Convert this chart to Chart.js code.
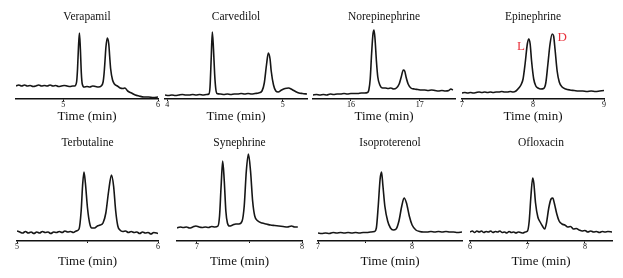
<!DOCTYPE html>
<html>
<head>
<meta charset="utf-8">
<script src="https://cdn.jsdelivr.net/npm/chart.js@4"></script>
<style>
  html, body { margin: 0; padding: 0; background: #fff; }
  #wrap { position: relative; width: 623px; height: 278px; background: #fff; overflow: hidden; }
  #wrap canvas { position: absolute; }
</style>
</head>
<body>
<div id="wrap"></div>
<script>
// ---------------- DATA ----------------
const panelNames = ['Verapamil', 'Carvedilol', 'Norepinephrine', 'Epinephrine',
                    'Terbutaline', 'Synephrine', 'Isoproterenol', 'Ofloxacin'];
const axisTitle = 'Time (min)';

const xMin = [4.5, 3.98, 15.45, 7, 5, 6.81, 7, 6];
const xMax = [6.0, 5.21, 17.51, 9, 6, 8.0, 8.53, 8.47];
const tickValues = [[5, 6], [4, 5], [16, 17], [7, 8, 9], [5, 5.5, 6], [7, 7.5, 8], [7, 7.5, 8], [6, 7, 8]];
const tickLabels = [['5', '6'], ['4', '5'], ['16', '17'], ['7', '8', '9'], ['5', '', '6'], ['7', '', '8'], ['7', '', '8'], ['6', '7', '8']];

const verapamilTime = [4.50,4.53,4.56,4.59,4.62,4.65,4.68,4.71,4.74,4.77,4.80,4.83,4.86,4.89,4.92,4.95,4.98,5.01,5.04,5.07,5.10,5.12,5.14,5.15,5.16,5.17,5.18,5.19,5.20,5.22,5.25,5.28,5.31,5.34,5.37,5.40,5.42,5.43,5.44,5.45,5.465,5.48,5.49,5.50,5.52,5.54,5.57,5.60,5.63,5.65,5.68,5.72,5.76,5.80,5.85,5.90,5.95,6.00];
const verapamilSignal = [13,14,13,14,13,13.5,12.5,13,14,13,13.5,13,14,13,13.5,12.5,13,13.5,13,12.5,13,13,17,30,52,66,50,26,15,12,12.5,12,13,12.5,12,13,17,25,38,52,61,55,42,30,19,15,13,11,10.5,11,8,6,4,3,2,2,1.5,2];

const carvedilolTime = [3.98,4.01,4.04,4.07,4.10,4.13,4.16,4.19,4.22,4.25,4.28,4.31,4.34,4.36,4.37,4.38,4.39,4.40,4.41,4.42,4.43,4.46,4.49,4.52,4.55,4.58,4.61,4.64,4.67,4.70,4.73,4.76,4.79,4.82,4.84,4.86,4.875,4.89,4.90,4.92,4.94,4.96,4.99,5.02,5.05,5.08,5.11,5.14,5.17,5.21];
const carvedilolSignal = [4,3.5,4,3.5,4,4.5,4,4,4.5,4,4.5,4,4.5,5,12,40,67,50,25,10,5.5,5,4.5,5,4.5,5,5,5.5,5,5.5,5,5.5,6,8,16,35,46,40,28,14,8,7,9,10.5,11,9.5,7.5,6,5.5,5];

const norepinephrineTime = [15.45,15.50,15.55,15.60,15.65,15.70,15.75,15.80,15.85,15.90,15.95,16.00,16.05,16.10,16.15,16.20,16.24,16.26,16.28,16.30,16.32,16.335,16.35,16.37,16.39,16.42,16.46,16.50,16.54,16.58,16.62,16.66,16.70,16.73,16.76,16.78,16.80,16.83,16.87,16.92,16.97,17.02,17.07,17.12,17.17,17.22,17.27,17.32,17.37,17.42,17.45,17.48];
const norepinephrineSignal = [4,4.5,4,4.5,4,5,4.5,5,5,5.5,5,5.5,5.5,5.5,6,6,6.5,9,20,45,65,69,60,38,22,14,11,11,10.5,11,10,11,15,22,29,28,22,15,11,10,9.5,9,9,8.5,9,8.5,8,8.5,8,8.5,10,9];

const epinephrineTime = [7.00,7.04,7.08,7.12,7.16,7.20,7.24,7.28,7.32,7.36,7.40,7.44,7.48,7.52,7.56,7.60,7.64,7.68,7.72,7.76,7.80,7.83,7.86,7.89,7.92,7.94,7.96,7.98,8.01,8.04,8.07,8.11,8.15,8.18,8.21,8.24,8.27,8.29,8.31,8.34,8.37,8.41,8.46,8.52,8.58,8.64,8.70,8.76,8.82,8.88,8.94,9.00];
const epinephrineSignal = [6,6.5,6,6.5,6,6.5,7,6.5,7,6.5,7,6.5,7,7,7.5,7,7,7.5,7,8,11,14,20,36,55,60,55,38,20,13,11,10,10.5,16,35,55,65,63,50,28,17,12,10,9,8.5,8,8,7.5,8,7.5,8,8.5];
const epinephrineMarks = ['L', 'D'];
const epinephrineMarkTime = [7.83, 8.41];
const epinephrineMarkSignal = [52, 61];

const terbutalineTime = [5.00,5.02,5.04,5.06,5.08,5.10,5.12,5.14,5.16,5.18,5.20,5.22,5.24,5.26,5.28,5.30,5.32,5.34,5.36,5.38,5.40,5.42,5.44,5.455,5.465,5.475,5.485,5.50,5.515,5.53,5.55,5.57,5.59,5.61,5.63,5.65,5.67,5.685,5.70,5.715,5.73,5.75,5.77,5.79,5.81,5.83,5.85,5.87,5.89,5.91,5.93,5.95,5.97,6.00];
const terbutalineSignal = [10,9,8,9.5,8,9,7.5,9,8,9.5,8.5,9,7.5,9,8.5,9.5,8.5,10,9,9.5,8.5,10,12,30,55,69,58,33,18,13,13,15,16,18,28,50,66,55,30,15,11,9.5,10,8.5,9.5,8.5,9,7.5,9,8,8.5,7,8.5,7.5];

const synephrineTime = [6.81,6.84,6.87,6.90,6.93,6.96,6.99,7.02,7.05,7.08,7.11,7.14,7.17,7.20,7.215,7.23,7.245,7.26,7.275,7.29,7.31,7.34,7.37,7.40,7.43,7.45,7.47,7.49,7.51,7.53,7.55,7.58,7.62,7.66,7.70,7.74,7.78,7.82,7.86,7.90,7.93,7.96];
const synephrineSignal = [13,14,13.5,14,13,14,15,14,13.5,14,13.5,14.5,14,15,25,55,80,60,30,18,15,16,17,17,20,35,70,87,70,40,25,20,18,17,16,15.5,15,14.5,14,15,14,14];

const isoproterenolTime = [7.00,7.04,7.08,7.12,7.16,7.20,7.24,7.28,7.32,7.36,7.40,7.44,7.48,7.52,7.56,7.60,7.62,7.64,7.66,7.675,7.69,7.71,7.74,7.77,7.80,7.83,7.86,7.89,7.915,7.94,7.97,8.00,8.04,8.08,8.12,8.16,8.20,8.24,8.28,8.32,8.36,8.40,8.44,8.48,8.53];
const isoproterenolSignal = [8,7.5,8,7.5,8.5,8,8.5,8,8.5,8,8.5,8,8.5,8.5,9,9.5,13,35,62,69,55,35,20,13,11,12,20,35,43,38,25,16,11,9.5,9,9,9.5,9,9.5,9,9.5,9,9,8.5,9];

const ofloxacinTime = [6.00,6.04,6.08,6.12,6.16,6.20,6.24,6.28,6.32,6.36,6.40,6.44,6.48,6.52,6.56,6.60,6.64,6.68,6.72,6.76,6.80,6.84,6.88,6.92,6.96,7.00,7.03,7.06,7.09,7.11,7.14,7.18,7.22,7.26,7.30,7.33,7.37,7.41,7.44,7.47,7.51,7.55,7.60,7.65,7.70,7.75,7.80,7.85,7.90,7.95,8.00,8.05,8.10,8.15,8.20,8.25,8.30,8.35,8.40,8.47];
const ofloxacinSignal = [9,10,8.5,10,9,10,8.5,9.5,9,10,8.5,9.5,9,10,8.5,9,8,9.5,8.5,9,8,9,8.5,8,9,10,20,45,63,58,38,24,19,15,12,18,33,42,43,37,27,20,17,16,14,14.5,12,12.5,11,10,10.5,9,10,9,9.5,8.5,9.5,9,9.5,9];

const panelTimes = [verapamilTime, carvedilolTime, norepinephrineTime, epinephrineTime,
                    terbutalineTime, synephrineTime, isoproterenolTime, ofloxacinTime];
const panelSignals = [verapamilSignal, carvedilolSignal, norepinephrineSignal, epinephrineSignal,
                      terbutalineSignal, synephrineSignal, isoproterenolSignal, ofloxacinSignal];

// ---------------- LAYOUT (pixels) ----------------
const axisLeftPx  = [16, 165, 313, 462, 17, 177, 318, 470];
const axisRightPx = [158, 307, 455, 604, 158, 302, 462, 612];
const rows = [
  { top: 0,   height: 139, titlePadTop: 11.25, padBottom: 15.5, axisTitlePadTop: 1.5, yMax: 76.25 },
  { top: 130, height: 148, titlePadTop: 7.25,  padBottom: 9.5,  axisTitlePadTop: 4.5, yMax: 92.25 }
];
const sidePad = 6;
const serif = "'Liberation Serif', 'Times New Roman', serif";

const markPlugin = {
  id: 'peakMarks',
  afterDatasetsDraw(chart, args, opts) {
    if (!opts || !opts.labels) return;
    const ctx = chart.ctx, xs = chart.scales.x, ys = chart.scales.y;
    ctx.save();
    ctx.fillStyle = opts.color;
    ctx.font = opts.font;
    ctx.textAlign = 'center';
    ctx.textBaseline = 'middle';
    opts.labels.forEach((t, i) => {
      ctx.fillText(t, xs.getPixelForValue(opts.times[i]), ys.getPixelForValue(opts.values[i]));
    });
    ctx.restore();
  }
};

const wrap = document.getElementById('wrap');
panelNames.forEach((name, i) => {
  const row = rows[i < 4 ? 0 : 1];
  const canvas = document.createElement('canvas');
  const w = axisRightPx[i] - axisLeftPx[i] + 2 * sidePad;
  canvas.width = w; canvas.height = row.height;
  canvas.style.left = (axisLeftPx[i] - sidePad) + 'px';
  canvas.style.top = row.top + 'px';
  canvas.style.width = w + 'px'; canvas.style.height = row.height + 'px';
  wrap.appendChild(canvas);

  const pts = panelTimes[i].map((t, k) => ({ x: t, y: panelSignals[i][k] }));
  const ticksV = tickValues[i], ticksL = tickLabels[i];

  new Chart(canvas, {
    type: 'line',
    data: { datasets: [{ data: pts, borderColor: '#161616', borderWidth: 1.6, pointRadius: 0,
                         cubicInterpolationMode: 'monotone', fill: false }] },
    options: {
      responsive: false, animation: false, devicePixelRatio: 1,
      layout: { padding: { left: sidePad, right: sidePad, top: 0, bottom: row.padBottom } },
      plugins: {
        legend: { display: false }, tooltip: { enabled: false },
        title: { display: true, text: name, color: '#111',
                 font: { family: serif, size: 11.5, lineHeight: 1, weight: 'normal' },
                 padding: { top: row.titlePadTop, bottom: 0 } },
        peakMarks: i === 3 ? { labels: epinephrineMarks, times: epinephrineMarkTime, values: epinephrineMarkSignal,
                               color: '#e8323c', font: '13px ' + serif } : false
      },
      scales: {
        x: {
          type: 'linear', min: xMin[i], max: xMax[i],
          afterBuildTicks: s => { s.ticks = ticksV.map(v => ({ value: v })); },
          ticks: { color: '#111', font: { family: serif, size: 8, lineHeight: 1 }, padding: 0,
                   maxRotation: 0, autoSkip: false,
                   callback: (v) => { const k = ticksV.indexOf(v); return k >= 0 ? ticksL[k] : ''; } },
          grid: { display: true, drawOnChartArea: false, drawTicks: true, tickLength: 2, color: '#111' },
          border: { display: true, color: '#111', width: 1.5 },
          title: { display: true, text: axisTitle, color: '#111',
                   font: { family: serif, size: 13, lineHeight: 1 },
                   padding: { top: row.axisTitlePadTop, bottom: 0 } }
        },
        y: { display: false, min: 0, max: row.yMax }
      }
    },
    plugins: [markPlugin]
  });
});
</script>
</body>
</html>
